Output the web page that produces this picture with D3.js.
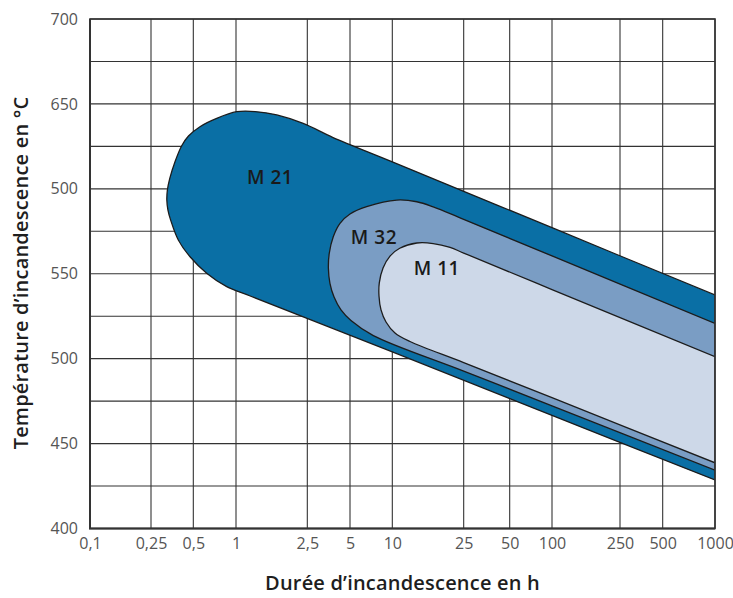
<!DOCTYPE html>
<html>
<head>
<meta charset="utf-8">
<script src="https://cdn.jsdelivr.net/npm/d3@7"></script>
<style>
  body { margin: 0; background: #fff; }
  svg { display: block; font-family: "Open Sans", sans-serif; }
</style>
</head>
<body>
<div id="chart"></div>
<script>
// axis ticks (the x axis of the original is a hand-spaced log axis)
const xTicks = [0.1, 0.25, 0.5, 1, 2.5, 5, 10, 25, 50, 100, 250, 500, 1000];
const xTickLabels = ["0,1", "0,25", "0,5", "1", "2,5", "5", "10", "25", "50", "100", "250", "500", "1000"];
const yTicks = [400, 450, 500, 550, 600, 650, 700];
const yTickLabels = ["400", "450", "500", "550", "500", "650", "700"];
const yGrid = [400, 425, 450, 475, 500, 525, 550, 575, 600, 625, 650, 675, 700];

// outlines of the fields: [duration h, temperature 째C]
const m21 = [[1000, 537.5], [100, 577.1], [10, 615.9], [3.8, 630.2], [2.37, 638.5], [1.69, 643.5],
  [1.28, 645.5], [1.01, 645.4], [0.731, 641.5], [0.557, 636.6], [0.462, 631.1], [0.4135, 625.4],
  [0.3705, 616.0], [0.340, 606.2], [0.327, 599.3], [0.324, 593.4], [0.330, 587.5], [0.345, 581.6],
  [0.391, 569.9], [0.474, 560.0], [0.621, 550.3], [0.86, 542.4], [1.2, 536.9], [10, 504.0],
  [100, 466.6], [1000, 428.6]];
const m32 = [[1000, 520.8], [100, 560.5], [25, 582.0], [16.9, 589.4], [13.7, 592.4], [10.6, 593.4],
  [6.57, 589.5], [5, 585.2], [4.25, 579.7], [3.81, 571.8], [3.57, 562.0], [3.52, 553.2], [3.61, 544.4],
  [3.86, 536.3], [4.32, 528.7], [5.08, 522.5], [7.33, 513.6], [25, 492.7], [100, 472.2], [1000, 434.4]];
const m11 = [[1000, 501.2], [100, 540.7], [25, 562.2], [21.0, 565.5], [16.9, 567.8], [13.7, 568.1],
  [11.0, 565.0], [9.63, 560.4], [8.59, 553.4], [8.08, 544.6], [8.04, 536.9], [8.31, 528.7], [9.02, 521.6],
  [10.35, 515.1], [12.55, 510.1], [25, 497.7], [100, 477.0], [1000, 438.7]];

const fieldNames = ["M 21", "M 32", "M 11"];
const fieldLabelPos = [[1.55, 607], [7.4, 571.6], [17.7, 553.4]];

const W = 733, H = 598;
const margin = {top: 19, right: 18, bottom: 69.5, left: 90};
const w = W - margin.left - margin.right;
const h = H - margin.top - margin.bottom;
// relative positions of the x ticks along the axis
const xTickFrac = [0, 0.0976, 0.1653, 0.2336, 0.3477, 0.416, 0.4837, 0.5979, 0.6715, 0.7392, 0.848, 0.9163, 1];

const svg = d3.select("#chart").append("svg")
  .attr("width", W)
  .attr("height", H);

const g = svg.append("g")
  .attr("transform", `translate(${margin.left},${margin.top})`);

const x = d3.scaleLog()
  .domain(xTicks)
  .range(xTickFrac.map(f => f * w));
const y = d3.scaleLinear()
  .domain([400, 700])
  .range([h, 0]);

// grid
g.append("g").selectAll("line")
  .data(yGrid)
  .enter().append("line")
  .attr("x1", 0).attr("x2", w)
  .attr("y1", d => y(d)).attr("y2", d => y(d))
  .attr("stroke", "#333").attr("stroke-width", 1.1);
g.append("g").selectAll("line")
  .data(xTicks)
  .enter().append("line")
  .attr("x1", d => x(d)).attr("x2", d => x(d))
  .attr("y1", 0).attr("y2", h)
  .attr("stroke", "#333").attr("stroke-width", 1.1);

svg.append("clipPath").attr("id", "plot-clip")
  .append("rect").attr("width", w).attr("height", h);

const line = d3.line()
  .x(d => x(d[0]))
  .y(d => y(d[1]))
  .curve(d3.curveCatmullRom.alpha(0.5));

const fields = [
  {pts: m21, fill: "#0a6fa5"},
  {pts: m32, fill: "#7a9dc4"},
  {pts: m11, fill: "#cdd8e8"}
];

const shapes = g.append("g").attr("clip-path", "url(#plot-clip)");
fields.forEach(f => {
  shapes.append("path")
    .attr("d", line(f.pts) + "Z")
    .attr("fill", f.fill)
    .attr("stroke", "#1c1c1c")
    .attr("stroke-width", 1.3)
    .attr("stroke-linejoin", "round");
});

fieldNames.forEach((name, i) => {
  g.append("text")
    .attr("x", x(fieldLabelPos[i][0]))
    .attr("y", y(fieldLabelPos[i][1]))
    .attr("dy", "0.35em")
    .attr("text-anchor", "middle")
    .attr("font-size", 19)
    .attr("font-weight", 600)
    .attr("letter-spacing", 0.5)
    .attr("fill", "#1a1a1a")
    .text(name);
});

// frame
g.append("rect")
  .attr("width", w).attr("height", h)
  .attr("fill", "none")
  .attr("stroke", "#333").attr("stroke-width", 1.6);
g.append("path")
  .attr("d", `M0,0V${h}H${w}`)
  .attr("fill", "none")
  .attr("stroke", "#333").attr("stroke-width", 2);

// axes
const xAxis = d3.axisBottom(x)
  .tickValues(xTicks)
  .tickFormat((d, i) => xTickLabels[i])
  .tickSize(0)
  .tickPadding(9);
const yAxis = d3.axisLeft(y)
  .tickValues(yTicks)
  .tickFormat((d, i) => yTickLabels[i])
  .tickSize(0)
  .tickPadding(12);

g.append("g")
  .attr("transform", `translate(0,${h})`)
  .call(xAxis)
  .call(a => a.select(".domain").remove())
  .call(a => a.selectAll("text")
    .attr("font-family", "Open Sans, sans-serif")
    .attr("font-size", 16)
    .attr("fill", "#555"));
g.append("g")
  .call(yAxis)
  .call(a => a.select(".domain").remove())
  .call(a => a.selectAll("text")
    .attr("font-family", "Open Sans, sans-serif")
    .attr("font-size", 16)
    .attr("fill", "#555"));

// axis titles
svg.append("text")
  .attr("x", margin.left + w / 2)
  .attr("y", 590)
  .attr("text-anchor", "middle")
  .attr("font-size", 20)
  .attr("font-weight", 600)
  .attr("letter-spacing", 0.2)
  .attr("fill", "#1e1e1e")
  .text("Durée d’incandescence en h");
svg.append("text")
  .attr("transform", "translate(28,273) rotate(-90)")
  .attr("text-anchor", "middle")
  .attr("font-size", 20)
  .attr("font-weight", 600)
  .attr("letter-spacing", 0.2)
  .attr("fill", "#1e1e1e")
  .text("Température d’incandescence en °C");
</script>
</body>
</html>
